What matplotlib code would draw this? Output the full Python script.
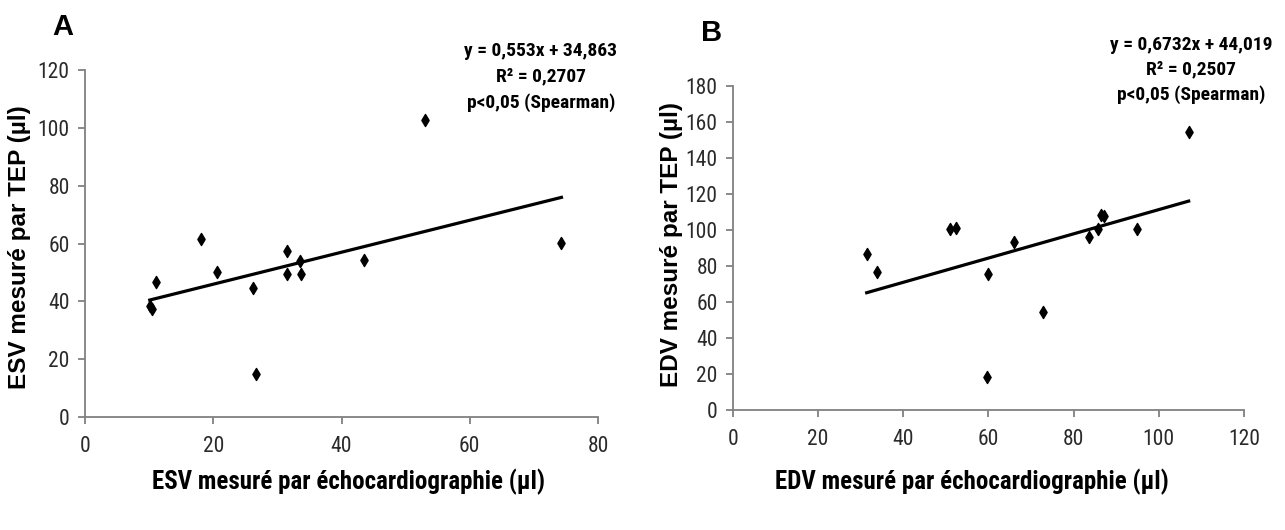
import numpy as np
import matplotlib
matplotlib.use('Agg')
import matplotlib.pyplot as plt
import matplotlib.ticker as ticker

# panel A - ESV
esv_echo = [10.1, 10.5, 11.0, 18.1, 20.6, 26.2, 26.7, 31.5, 31.5, 33.5, 33.7, 43.5, 53.0, 74.3]
esv_tep = [38.5, 37.5, 46.6, 61.6, 50.3, 44.6, 15.0, 57.5, 49.5, 53.8, 49.3, 54.4, 102.7, 60.2]
esv_fit = (0.553, 34.863)
esv_text = 'y = 0,553x + 34,863\nR² = 0,2707\np<0,05 (Spearman)'

# panel B - EDV
edv_echo = [31.4, 33.7, 50.9, 52.3, 59.6, 59.9, 66.0, 72.7, 83.7, 85.8, 86.4, 87.2, 94.8, 107.0]
edv_tep = [86.4, 76.4, 100.3, 100.9, 18.4, 75.3, 93.6, 54.6, 96.0, 100.3, 108.1, 107.6, 100.3, 154.4]
edv_fit = (0.6732, 44.019)
edv_text = 'y = 0,6732x + 44,019\nR² = 0,2507\np<0,05 (Spearman)'

narrow = ['Roboto Condensed', 'Liberation Sans Narrow', 'Liberation Sans', 'DejaVu Sans']
plt.rcParams['font.family'] = narrow
W, H = 1285, 530

fig = plt.figure(figsize=(12.85, 5.3), dpi=100)
axA = fig.add_axes([85 / W, 1 - 417 / H, 513 / W, 347 / H])
axB = fig.add_axes([733 / W, 1 - 410 / H, 511 / W, 324 / H])


def draw(ax, xs, ys, fit, xmax, xstep, ymax, ystep, xlabel, ylabel, xlab_pos, ylab_pos):
    ax.scatter(xs, ys, marker='d', s=38, color='black', zorder=3)
    xl = np.array([min(xs), max(xs)])
    ax.plot(xl, fit[0] * xl + fit[1], color='black', lw=2.3)
    ax.set_xlim(0, xmax)
    ax.set_ylim(0, ymax)
    ax.xaxis.set_major_locator(ticker.MultipleLocator(xstep))
    ax.yaxis.set_major_locator(ticker.MultipleLocator(ystep))
    for s in ['top', 'right']:
        ax.spines[s].set_visible(False)
    for s in ['left', 'bottom']:
        ax.spines[s].set_color('#808080')
        ax.spines[s].set_linewidth(1.3)
    ax.tick_params(direction='out', length=5, width=1.3, color='#808080',
                   labelsize=15.5, labelcolor='#2a2a2a')
    ax.tick_params(axis='y', pad=6)
    ax.tick_params(axis='x', pad=9)
    ax.set_xlabel(xlabel, fontsize=18, fontweight='bold')
    ax.xaxis.label.set_va('center')
    ax.xaxis.set_label_coords(*xlab_pos)
    ax.set_ylabel(ylabel, fontsize=17.5, fontweight='bold',
                  family=['Liberation Sans', 'DejaVu Sans'])
    ax.yaxis.label.set_va('center')
    ax.yaxis.set_label_coords(*ylab_pos)


draw(axA, esv_echo, esv_tep, esv_fit, 80, 20, 120, 20,
     'ESV mesuré par échocardiographie (µl)', 'ESV mesuré par TEP (µl)',
     (0.513, -0.187), (-0.127, 0.49))
draw(axB, edv_echo, edv_tep, edv_fit, 120, 20, 180, 20,
     'EDV mesuré par échocardiographie (µl)', 'EDV mesuré par TEP (µl)',
     (0.468, -0.222), (-0.121, 0.51))

fig.text(541 / W, 1 - 77 / H, esv_text, ha='center', va='center', fontsize=14,
         fontweight='bold', linespacing=1.55)
fig.text(1191 / W, 1 - 70 / H, edv_text, ha='center', va='center', fontsize=14,
         fontweight='bold', linespacing=1.45)

fig.text(63 / W, 1 - 27 / H, 'A', ha='center', va='center', fontsize=21,
         fontweight='bold', family=['Liberation Sans', 'DejaVu Sans'])
fig.text(712 / W, 1 - 33 / H, 'B', ha='center', va='center', fontsize=21,
         fontweight='bold', family=['Liberation Sans', 'DejaVu Sans'])

fig.savefig('out.png', dpi=100)
